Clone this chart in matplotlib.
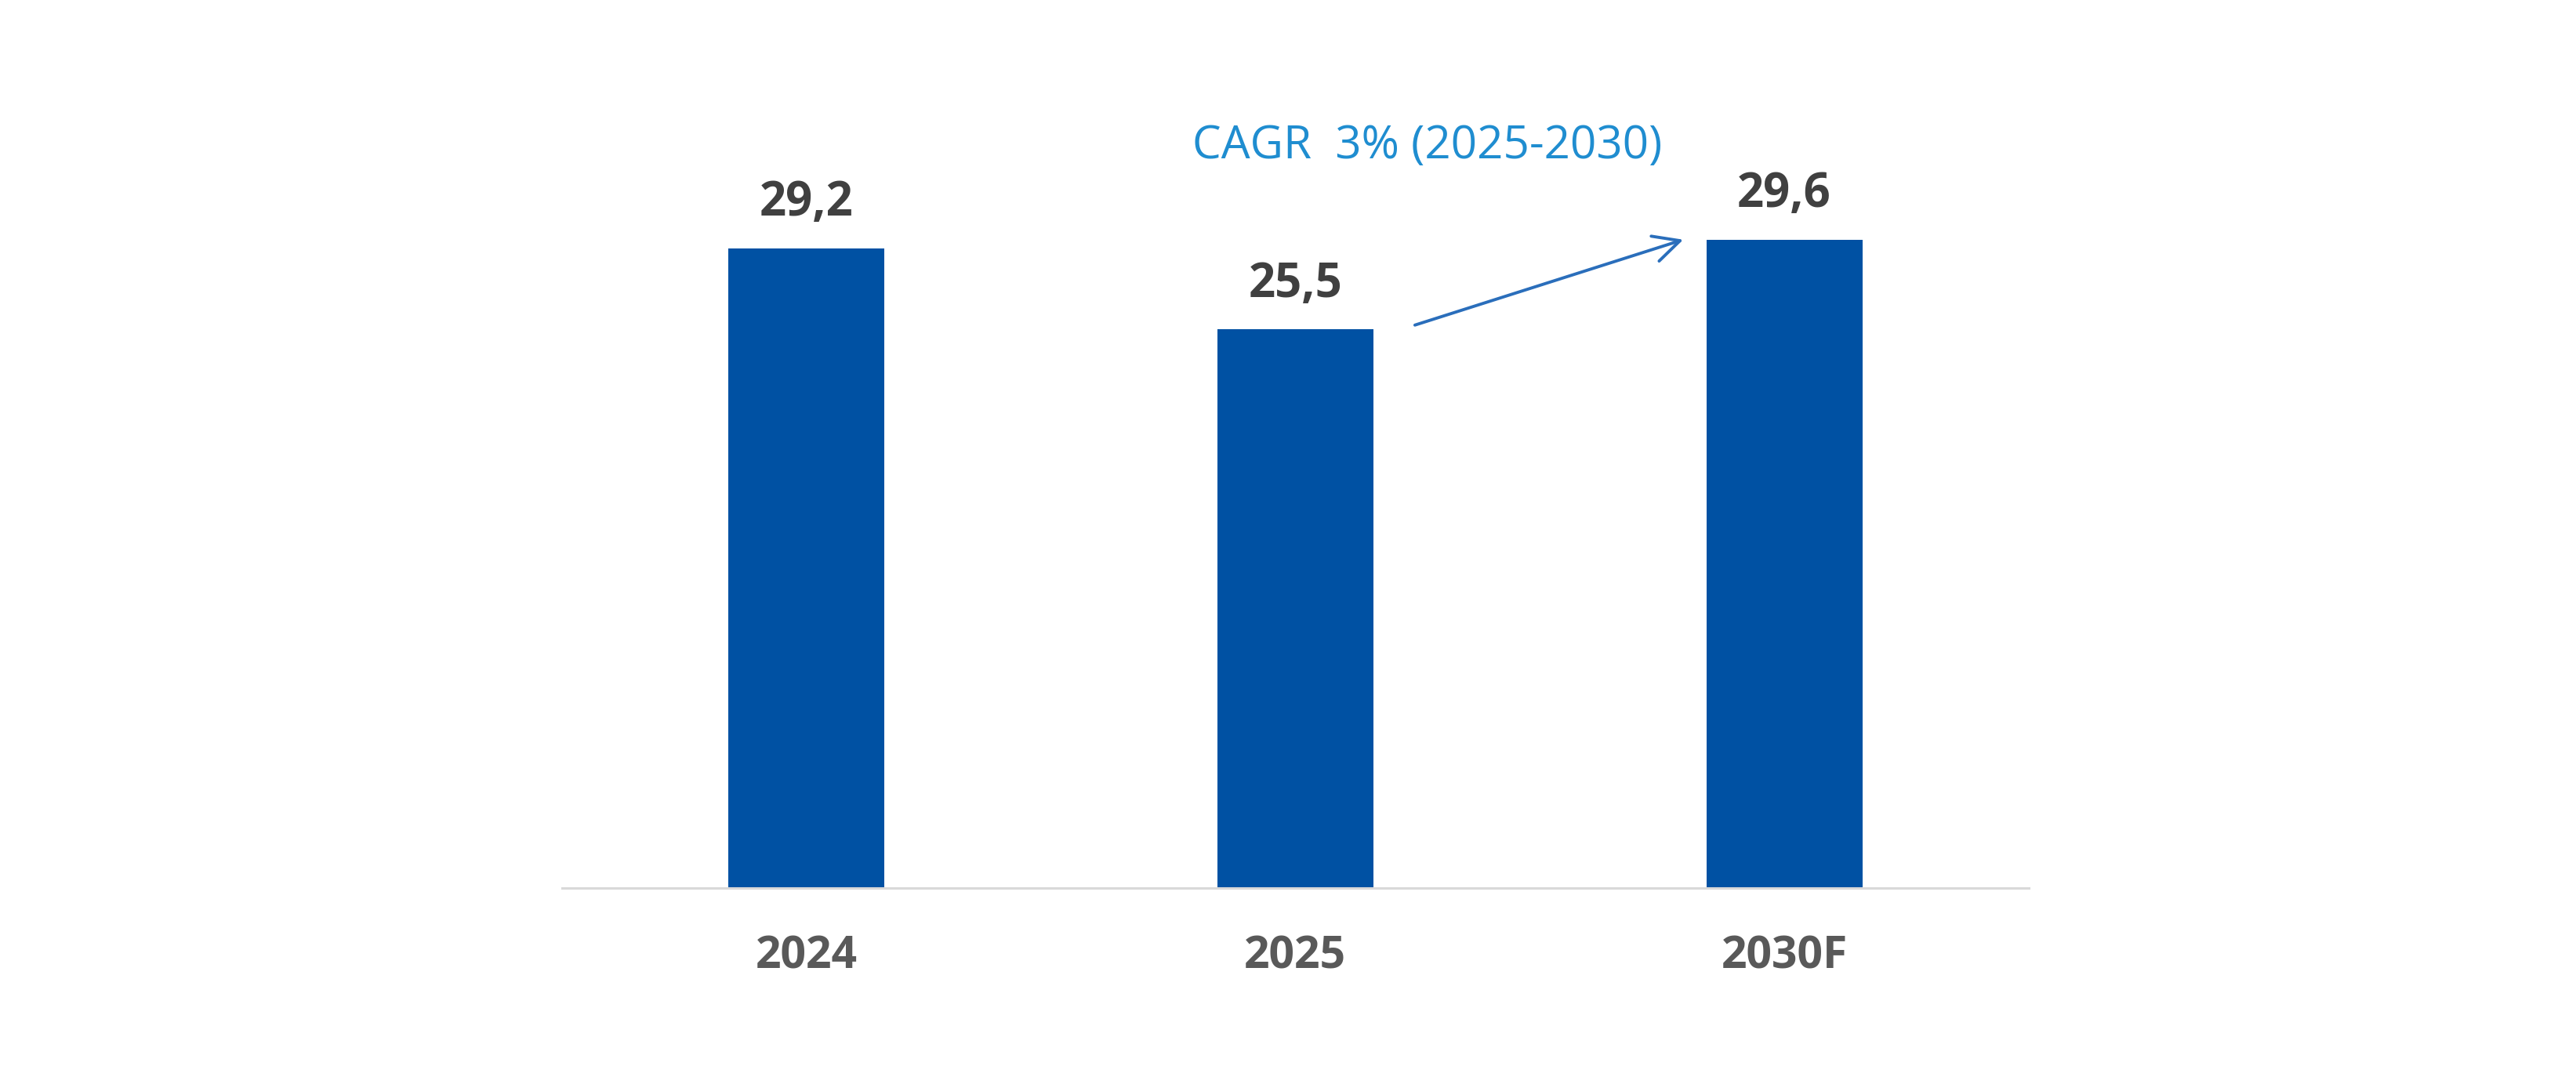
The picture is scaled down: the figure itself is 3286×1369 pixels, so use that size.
import matplotlib.pyplot as plt

# Données
annees = ["2024", "2025", "2030F"]
valeurs = [29.2, 25.5, 29.6]
etiquettes = ["29,2", "25,5", "29,6"]
texte_cagr = "CAGR  3% (2025-2030)"

plt.rcParams["font.family"] = ["Open Sans", "DejaVu Sans"]

fig = plt.figure(figsize=(32.87, 13.69), dpi=100)
ax = fig.add_axes([0.2181, 0.1724, 0.5692, 0.7553])

largeur = 0.319
x = list(range(len(annees)))
ax.bar(x, valeurs, width=largeur, color="#0051a3", zorder=2)

ax.set_xlim(-0.5, 2.5)
ax.set_ylim(0, 37)

# Étiquettes de valeur au-dessus des barres
for xi, v, lab in zip(x, valeurs, etiquettes):
    ax.annotate(
        lab,
        (xi, v),
        xytext=(0, 30),
        textcoords="offset points",
        ha="center",
        va="baseline",
        fontsize=43,
        fontweight="bold",
        color="#404040",
    )

# Axes : seulement la ligne de base
for cote in ["top", "right", "left"]:
    ax.spines[cote].set_visible(False)
ax.spines["bottom"].set_color("#d9d9d9")
ax.spines["bottom"].set_linewidth(2.2)
ax.set_yticks([])
ax.set_xticks(x)
ax.set_xticklabels(annees, fontsize=41, fontweight="bold", color="#595959")
ax.tick_params(axis="x", length=0, pad=42)

# Flèche CAGR entre 2025 et 2030F
ax.annotate(
    "",
    xy=(2 - largeur / 2 - 0.047, valeurs[2]),
    xytext=(1 + largeur / 2 + 0.085, valeurs[1] + 0.2),
    arrowprops=dict(arrowstyle="->", color="#2a6ebb", lw=2.8,
                    mutation_scale=60, shrinkA=0, shrinkB=0),
)
ax.text(1.27, 33.3, texte_cagr, ha="center", va="baseline",
        fontsize=42, color="#1f8dd0")

fig.savefig("out.png", dpi=100)
